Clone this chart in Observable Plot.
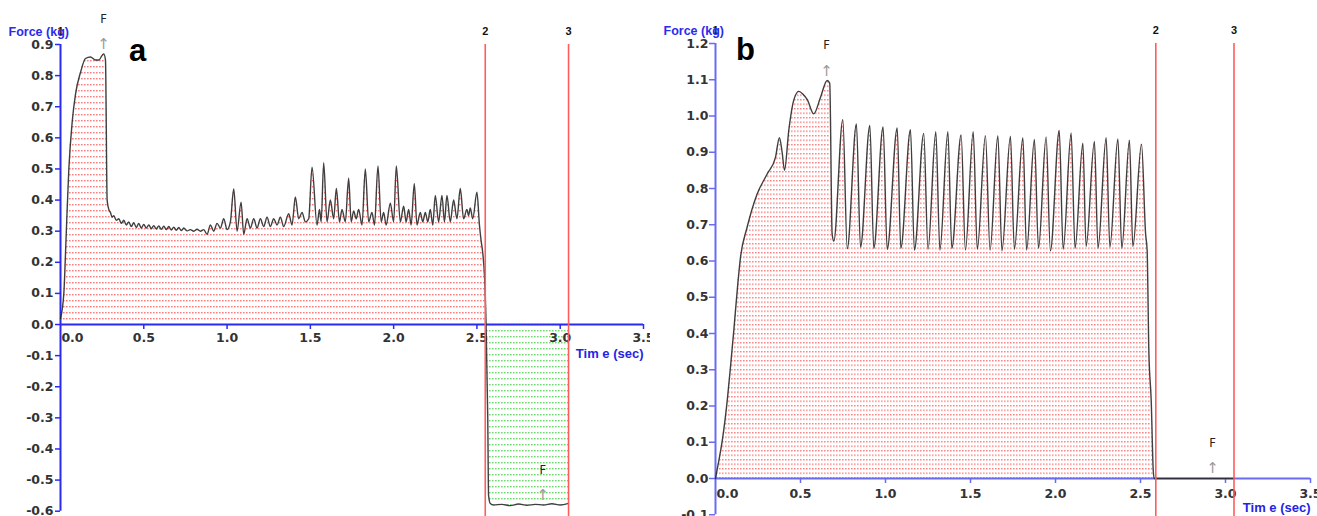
<!DOCTYPE html>
<html><head><meta charset="utf-8">
<script src="https://cdn.jsdelivr.net/npm/d3@7"></script>
<script src="https://cdn.jsdelivr.net/npm/@observablehq/plot@0.6"></script>
<style>
html,body{margin:0;padding:0;background:#fff;}
#wrap{position:relative;width:1317px;height:516px;overflow:hidden;background:#fff;}
#pa{position:absolute;left:0;top:0;}
#pb{position:absolute;left:650px;top:0;}
</style></head><body><div id="wrap"><div id="pa"></div><div id="pb"></div></div>
<script>
// ---------- Panel a data ----------
const aTime = [0.00,0.02,0.035,0.05,0.07,0.09,0.12,0.15,0.18,0.21,0.23,0.25,0.26,0.27,0.28,0.29,0.30,0.31,0.32,0.335,0.35,0.365,0.38,0.395,0.41,0.425,0.44,0.455,0.47,0.485,0.50,0.515,0.53,0.545,0.56,0.575,0.59,0.605,0.62,0.635,0.65,0.665,0.68,0.695,0.71,0.725,0.74,0.76,0.78,0.80,0.82,0.84,0.86,0.88,0.90,0.92,0.94,0.96,0.98,1.00,1.02,1.04,1.06,1.084,1.10,1.12,1.14,1.16,1.18,1.20,1.22,1.24,1.26,1.28,1.30,1.32,1.34,1.37,1.39,1.41,1.43,1.45,1.47,1.49,1.51,1.54,1.555,1.565,1.58,1.60,1.62,1.64,1.656,1.675,1.69,1.71,1.73,1.745,1.76,1.775,1.79,1.81,1.83,1.85,1.87,1.885,1.906,1.925,1.94,1.955,1.98,2.00,2.016,2.04,2.06,2.075,2.09,2.105,2.124,2.14,2.16,2.175,2.19,2.205,2.22,2.235,2.25,2.27,2.29,2.305,2.32,2.34,2.36,2.38,2.40,2.42,2.44,2.45,2.46,2.475,2.50,2.515,2.525,2.535,2.546,2.555,2.565,2.57,2.58,2.60,2.65,2.70,2.75,2.80,2.85,2.90,2.95,3.00,3.05];
const aForce = [0.02,0.10,0.30,0.50,0.65,0.74,0.81,0.855,0.86,0.85,0.85,0.865,0.87,0.85,0.40,0.37,0.36,0.345,0.35,0.335,0.34,0.325,0.335,0.32,0.33,0.315,0.327,0.312,0.325,0.31,0.322,0.31,0.32,0.308,0.318,0.307,0.317,0.306,0.316,0.305,0.315,0.304,0.313,0.303,0.312,0.302,0.31,0.301,0.305,0.30,0.306,0.30,0.305,0.29,0.32,0.30,0.325,0.31,0.34,0.305,0.33,0.436,0.30,0.393,0.29,0.34,0.31,0.34,0.31,0.34,0.315,0.345,0.315,0.34,0.32,0.345,0.315,0.356,0.32,0.41,0.34,0.36,0.33,0.34,0.506,0.32,0.37,0.33,0.52,0.33,0.40,0.34,0.437,0.33,0.37,0.33,0.47,0.33,0.365,0.34,0.37,0.32,0.50,0.33,0.36,0.32,0.51,0.33,0.36,0.32,0.39,0.33,0.51,0.33,0.38,0.33,0.37,0.32,0.453,0.32,0.36,0.33,0.36,0.33,0.37,0.32,0.415,0.33,0.415,0.33,0.415,0.33,0.40,0.34,0.437,0.34,0.37,0.35,0.375,0.34,0.425,0.32,0.27,0.23,0.15,0.00,-0.30,-0.55,-0.575,-0.58,-0.578,-0.582,-0.577,-0.581,-0.578,-0.58,-0.576,-0.58,-0.575];
const aSplit = 2.555;             // end of push phase (red) / start of pull phase (green)
const aMarkerTimes = [0, 2.55, 3.05];
const aMarkerLabels = ["1", "2", "3"];
const aFTimes = [0.258, 2.896];   // "F" arrows
const aFForces = [0.90, -0.55];
const aYTicks = [-0.6,-0.5,-0.4,-0.3,-0.2,-0.1,0,0.1,0.2,0.3,0.4,0.5,0.6,0.7,0.8,0.9];

// ---------- Panel b data ----------
const bTime = [0.00,0.02,0.04,0.069,0.088,0.108,0.128,0.147,0.186,0.245,0.304,0.353,0.376,0.392,0.406,0.431,0.46,0.49,0.515,0.54,0.578,0.618,0.657,0.672,0.686,0.696,0.749,0.775,0.829,0.853,0.908,0.931,0.986,1.01,1.069,1.09,1.147,1.17,1.225,1.25,1.296,1.32,1.367,1.39,1.445,1.47,1.516,1.54,1.588,1.615,1.661,1.685,1.735,1.758,1.808,1.83,1.876,1.90,1.945,1.97,2.022,2.045,2.092,2.115,2.161,2.18,2.229,2.25,2.298,2.32,2.367,2.39,2.435,2.455,2.506,2.53,2.539,2.549,2.563,2.575,2.58,3.05];
const bForce = [0.00,0.05,0.105,0.215,0.307,0.41,0.52,0.61,0.693,0.785,0.84,0.886,0.94,0.90,0.85,0.96,1.043,1.068,1.06,1.045,1.006,1.052,1.098,1.09,0.675,0.655,0.99,0.634,0.978,0.638,0.974,0.635,0.97,0.632,0.967,0.635,0.962,0.63,0.952,0.632,0.957,0.63,0.957,0.635,0.948,0.63,0.957,0.632,0.946,0.63,0.946,0.628,0.944,0.632,0.94,0.63,0.935,0.635,0.942,0.628,0.96,0.632,0.953,0.635,0.925,0.64,0.93,0.635,0.94,0.638,0.937,0.635,0.933,0.64,0.922,0.675,0.63,0.353,0.215,0.022,0.00,0.00];
const bSplit = 2.58;
const bMarkerTimes = [0, 2.59, 3.05];
const bMarkerLabels = ["1", "2", "3"];
const bFTimes = [0.653, 2.924];
const bFForces = [1.125, 0.028];
const bYTicks = [-0.1,0,0.1,0.2,0.3,0.4,0.5,0.6,0.7,0.8,0.9,1.0,1.1,1.2];

const xTicks = [0,0.5,1.0,1.5,2.0,2.5,3.0,3.5];

function makePanel(cfg) {
  const data = cfg.time.map((t, i) => ({t, v: cfg.force[i]}));
  const push = data.filter(d => d.t <= cfg.split);
  const pull = data.filter(d => d.t >= cfg.split && d.v <= 0);
  const marks = [
    Plot.areaY(push, {x: "t", y1: 0, y2: "v", curve: "monotone-x", fill: `url(#${cfg.id}red)`}),
    cfg.green ? Plot.areaY(pull, {x: "t", y1: 0, y2: "v", curve: "monotone-x", fill: `url(#${cfg.id}green)`}) : null,
    Plot.ruleX([0], {stroke: cfg.axisBlue, strokeWidth: 2}),
    Plot.ruleY([0], {stroke: cfg.axisBlue, strokeWidth: 2}),
    Plot.axisY({ticks: cfg.yTicks, tickFormat: d => d.toFixed(1), tickSize: cfg.tickSize, tickPadding: cfg.tickPadding,
      stroke: cfg.axisBlue, strokeWidth: 1.5, fill: "#333", fontSize: 12.5, fontWeight: "bold", label: null}),
    Plot.ruleX(xTicks.slice(1), {x: d => d, y1: 0, y2: 0, insetBottom: -5, stroke: cfg.axisBlue, strokeWidth: 1.5}),
    Plot.text(xTicks.slice(1), {x: d => d, y: 0, text: d => d.toFixed(1), dy: cfg.xLabelDy, fill: "#333", fontSize: 12.5, fontWeight: "bold"}),
    Plot.text([0], {x: d => d, y: 0, text: d => d.toFixed(1), dy: cfg.xLabelDy, dx: 12, fill: "#333", fontSize: 12.5, fontWeight: "bold"}),
    Plot.line(data, {x: "t", y: "v", curve: "monotone-x", stroke: "#2a2a2a", strokeWidth: 1.4, strokeOpacity: 0.9}),
    Plot.ruleX(cfg.markerTimes.slice(1), {x: d => d, stroke: "#ff5c5c", strokeWidth: 1.6, insetBottom: -8}),
    Plot.text(cfg.markerTimes, {x: d => d, text: (d, i) => cfg.markerLabels[i], frameAnchor: "top", dy: -17,
      fill: "#111", fontSize: 11, fontWeight: "bold", fontFamily: "Liberation Sans"}),
    Plot.text(cfg.fTimes, {x: d => d, y: (d, i) => cfg.fForces[i], text: () => "\u2191", fill: "#9a9a9a", fontSize: 15}),
    Plot.text(cfg.fTimes, {x: d => d, y: (d, i) => cfg.fForces[i], text: () => "F", dy: -25, fill: "#222", fontSize: 11.5}),
    Plot.text(["Force (kg)"], {frameAnchor: "top-left", dx: -52, dy: -17, textAnchor: "start", fill: "#2b2bee",
      fontSize: 12.5, fontWeight: "bold", fontFamily: "Liberation Sans"}),
    Plot.text(["Tim e (sec)"], {x: 3.5, y: 0, dy: 29, textAnchor: "end", fill: "#2424e6",
      fontSize: 13, fontWeight: "bold", fontFamily: "Liberation Sans"}),
    Plot.text([cfg.panelLabel], {frameAnchor: "top-left", dx: cfg.panelDx, dy: 16, lineAnchor: "bottom", textAnchor: "middle",
      fill: "#000", fontSize: 31, fontWeight: "bold", fontFamily: "Liberation Sans"})
  ].filter(Boolean);
  const svg = Plot.plot({
    width: cfg.width, height: 516,
    marginLeft: cfg.marginLeft, marginRight: 7, marginTop: cfg.marginTop, marginBottom: cfg.marginBottom,
    x: {domain: [0, 3.5], axis: null},
    y: {domain: cfg.yDomain},
    style: {fontFamily: "DejaVu Sans", background: "white", overflow: "visible"},
    marks
  });
  const ns = "http://www.w3.org/2000/svg";
  const defs = document.createElementNS(ns, "defs");
  defs.innerHTML = `
    <pattern id="${cfg.id}red" width="3" height="${cfg.rowStep}" patternUnits="userSpaceOnUse">
      <rect x="0" y="0" width="1.6" height="1.4" fill="#ff4d4d" fill-opacity="${cfg.dotOpacity}"/>
    </pattern>
    <pattern id="${cfg.id}green" width="3" height="6" patternUnits="userSpaceOnUse">
      <rect x="0" y="0" width="1.6" height="1.4" fill="#44d444" fill-opacity="0.8"/>
    </pattern>`;
  svg.insertBefore(defs, svg.firstChild);
  return svg;
}

document.getElementById("pa").appendChild(makePanel({
  id: "a", width: 650, marginLeft: 60, marginTop: 44, marginBottom: 5.3, yDomain: [-0.6, 0.9],
  time: aTime, force: aForce, split: aSplit, green: true,
  markerTimes: aMarkerTimes, markerLabels: aMarkerLabels, fTimes: aFTimes, fForces: aFForces,
  yTicks: aYTicks, axisBlue: "#2a2af0", tickSize: 5, tickPadding: 2, xLabelDy: 13,
  panelLabel: "a", panelDx: 77, rowStep: 6, dotOpacity: 0.75
}));
document.getElementById("pb").appendChild(makePanel({
  id: "b", width: 667, marginLeft: 65, marginTop: 43, marginBottom: 1.75, yDomain: [-0.1, 1.2],
  time: bTime, force: bForce, split: bSplit, green: false,
  markerTimes: bMarkerTimes, markerLabels: bMarkerLabels, fTimes: bFTimes, fForces: bFForces,
  yTicks: bYTicks, axisBlue: "#6b6bf2", tickSize: 6, tickPadding: 1, xLabelDy: 15,
  panelLabel: "b", panelDx: 30, rowStep: 4.5, dotOpacity: 0.7
}));
</script>
</body></html>
